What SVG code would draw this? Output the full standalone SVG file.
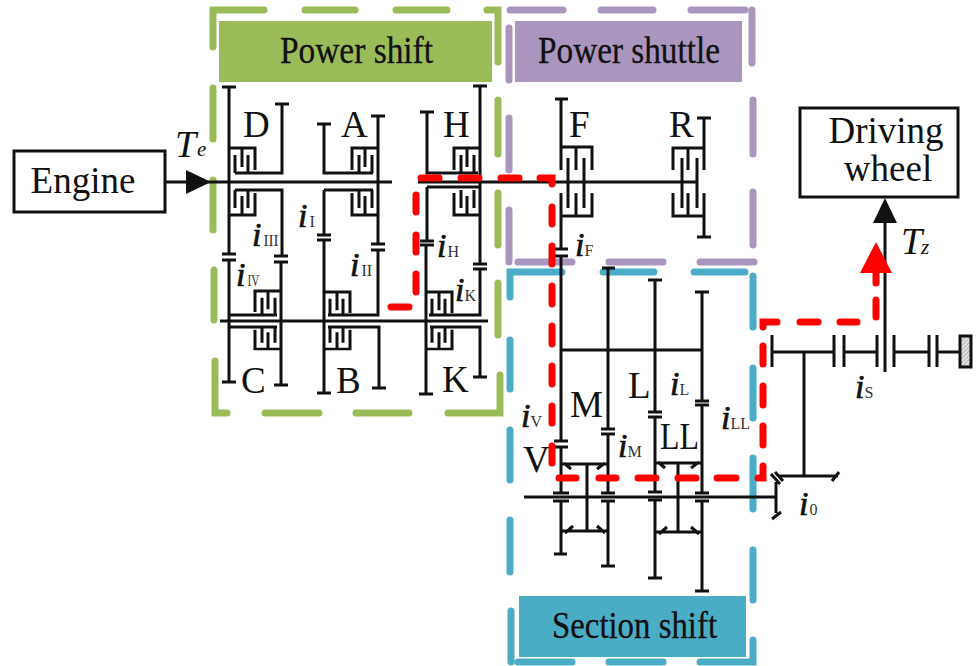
<svg xmlns="http://www.w3.org/2000/svg" xmlns:xlink="http://www.w3.org/1999/xlink" width="977" height="666" viewBox="0 0 977 666">
<style>
text{font-family:"Liberation Serif","Times New Roman",serif;fill:#111}
.lab{font-size:37px}
.band{font-size:38px;text-anchor:middle;stroke:#111;stroke-width:.3}
.big{font-size:37px;text-anchor:middle}
.T{font-size:38px;font-style:italic}
.t{font-size:21px;font-style:italic}
.i{font-size:34px;font-style:italic;stroke:#111;stroke-width:.7}
.s{font-size:16px;font-style:normal;font-weight:normal;fill:#333;stroke:none}
.m{fill:none;stroke:#111;stroke-width:3}
.d{fill:none;stroke-width:7;stroke-linecap:round;stroke-linejoin:miter}
.g{stroke:#9bbb59}.p{stroke:#a995be}.c{stroke:#4bacc6}
.r{fill:none;stroke:#f00;stroke-width:7;stroke-linecap:round;stroke-linejoin:miter}
.box{fill:#fff;stroke:#111;stroke-width:3}
</style>
<defs>
<path id="cl" class="m" d="M0 0H26V22M13 0V19M6 25V7M19 25V7"/>
<pattern id="hatch" width="3" height="3" patternUnits="userSpaceOnUse" patternTransform="rotate(45)"><rect width="3" height="3" fill="#e4e4e4"/><path d="M0 0V3" stroke="#888" stroke-width="1.1"/></pattern>
</defs>

<g id="power-shift">
<path class="d g" d="M213 47V10H264M305 10H355M396 10H447M487 10H498V62M498 100V154M498 193V245M498 283V335M500 375V413H448M409 413H356M319 413H265M227 413H215V361M214 320V270M213 230V180M213 139V88"/>
<rect x="219" y="21" width="273" height="61" fill="#9bbb59"/>
<text class="band" x="356.500" y="63" textLength="153" lengthAdjust="spacingAndGlyphs">Power shift</text>
</g>

<g id="power-shuttle">
<path class="d p" d="M510 10H563M601 10H653M691 10H745M752 10V63M509 28V80M509 118V170M509 210V262M518 262H572M609 262H663M700 262H754M753 100V154M753 192V245"/>
<rect x="515" y="21" width="227" height="61" fill="#a995be"/>
<text class="band" x="629" y="63" textLength="182" lengthAdjust="spacingAndGlyphs">Power shuttle</text>
</g>

<g id="section-shift">
<path class="d c" d="M510 297V272H562M603 272H654M694 272H745M753 276V327M753 368V418M753 458V509M753 550V600M753 640V662H700M663 662H609M572 662H518M511 662V611M510 572V520M510 480V430M510 389V340"/>
<rect x="519" y="596" width="227" height="61" fill="#4bacc6"/>
<text class="band" x="634.500" y="638" textLength="165" lengthAdjust="spacingAndGlyphs">Section shift</text>
</g>

<g id="engine">
<rect class="box" x="14" y="151" width="151" height="61"/>
<text class="big" x="83" y="193">Engine</text>
</g>

<g id="driving-wheel">
<rect class="box" x="800" y="108" width="158" height="89"/>
<text class="big" x="886" y="143">Driving</text>
<text class="big" x="888" y="181">wheel</text>
</g>

<g id="shafts">
<path class="m" d="M165 182H392M418 182H697M220 321H488M524 497H776M561 350H702"/>
</g>

<g id="gear-D-C">
<path class="m" d="M222 87H236M229 87V253M222 254H236M222 260H236M229 260V382M222 382H236M229 315H277"/>
<path class="m" d="M275 104H289M282 104V173H235M235 190H282V256M274 256H288M274 262H288M281 262V385M274 385H288M229 327H277"/>
<use xlink:href="#cl" href="#cl" transform="translate(229 148)"/>
<use xlink:href="#cl" href="#cl" transform="translate(229 215) scale(1 -1)"/>
<use xlink:href="#cl" href="#cl" transform="translate(281 291) scale(-1 .96)"/>
<use xlink:href="#cl" href="#cl" transform="translate(281 349) scale(-1 -.88)"/>
<text class="lab" x="243" y="137">D</text>
<text class="lab" x="241" y="393">C</text>
</g>

<g id="gear-A-B">
<path class="m" d="M317 124H331M324 124V173H373M324 190H373M324 190V235M317 235H331M317 240H331M324 240V393M317 393H331"/>
<path class="m" d="M371 116H385M378 116V244M371 244H385M371 250H385M378 250V315H328M328 327H379V388M372 388H386"/>
<use xlink:href="#cl" href="#cl" transform="translate(378 148) scale(-1 1)"/>
<use xlink:href="#cl" href="#cl" transform="translate(378 215) scale(-1 -1)"/>
<use xlink:href="#cl" href="#cl" transform="translate(324 292) scale(1 .96)"/>
<use xlink:href="#cl" href="#cl" transform="translate(324 349) scale(1 -.88)"/>
<text class="lab" x="341" y="137">A</text>
<text class="lab" x="336" y="393">B</text>
</g>

<g id="gear-H-K">
<path class="m" d="M420 112H434M427 112V173H478M427 187H480M427 187V241M420 241H434M420 245H434M426 245V394M419 394H433"/>
<path class="m" d="M473 86H487M480 86V264M473 264H487M473 269H487M480 269V315H429M430 327H480V377M473 377H487"/>
<use xlink:href="#cl" href="#cl" transform="translate(480 148) scale(-1 1)"/>
<use xlink:href="#cl" href="#cl" transform="translate(480 215) scale(-1 -1)"/>
<use xlink:href="#cl" href="#cl" transform="translate(426 292) scale(1 .96)"/>
<use xlink:href="#cl" href="#cl" transform="translate(426 349) scale(1 -.88)"/>
<text class="lab" x="443" y="137">H</text>
<text class="lab" x="442" y="392">K</text>
</g>

<g id="gear-F">
<path class="m" d="M555 99H568M561 99V170M561 147H592V170M576 147V170M568 158V208M584 158V208M561 193V249M561 216H592V193M576 216V193M554 249H568M554 256H568M561 256V441"/>
<text class="lab" x="569" y="137">F</text>
</g>

<g id="gear-R">
<path class="m" d="M697 118H711M704 118V170M673 170V148H704M688 148V170M682 158V208M697 158V208M673 193V216H704M688 216V193M704 193V237M697 237H711"/>
<text class="lab" x="669" y="137">R</text>
</g>

<g id="gear-V-M">
<path class="m" d="M554 441H568M554 447H568M561 447V493M553 493H569M553 501H569M561 501V554M554 554H567"/>
<path class="m" d="M602 268H615M608 268V429M601 429H615M601 434H615M608 434V493M601 493H615M601 501H615M608 501V566M601 566H615"/>
<path class="m" d="M561 464H608M587 464V531M561 531H608M564 463L571 469M605 463L597 469M565 533L573 526M605 533L597 526"/>
<text class="lab" x="570" y="417">M</text>
<text class="lab" x="523" y="472">V</text>
</g>

<g id="gear-L-LL">
<path class="m" d="M648 280H662M655 280V412M648 412H662M648 417H662M655 417V492M648 492H662M648 500H662M655 500V578M648 578H662"/>
<path class="m" d="M695 292H709M702 292V401M695 401H709M695 405H709M702 405V493M695 493H709M695 501H709M702 501V591M695 591H709"/>
<path class="m" d="M655 463H702M678 463V532M655 532H702M658 462L665 468M699 462L691 468M659 534L667 527M699 534L691 527"/>
<text class="lab" x="628" y="398">L</text>
<text class="lab" x="660" y="449" textLength="39" lengthAdjust="spacingAndGlyphs">LL</text>
</g>

<g id="final-drive">
<path class="m" d="M772 335V367M834 335V367M844 335V367M877 335V367M885 372V212M894 335V367M929 335V367M937 335V367M772 352H834M844 352H877M894 352H929M937 352H959M804 352V476M778 476H838M832 481L839 472M771 474L780 484M775 472L783 481M776 482V513M772 519L781 512"/>
<rect x="960" y="336" width="11" height="31" fill="url(#hatch)" stroke="#111" stroke-width="3"/>
</g>

<g id="connectors">
<path d="M186 170L211 182L186 194Z" fill="#111"/>
<path d="M885 198L897 223H873Z" fill="#111"/>
<path class="r" d="M391 307H409M416 292V274M416 252V235M416 212V195M421 178H439M461 178H479M501 178H519M540 178H552V184M552 207V224M552 246V264M552 286V304M552 326V344M552 366V384M552 406V423M552 446V463M559 478H576M599 478H616M638 478H656M678 478H696M717 478H736M758 478H763V466M763 445V426M763 405V386M763 364V346M763 327V322H777M800 322H818M840 322H857M876 317V300M876 283V272"/>
<path d="M876 242L892 273H860Z" fill="#f00"/>
</g>

<g id="labels">
<text class="T" x="175" y="157">T</text><text class="t" x="197" y="156">e</text>
<text class="T" x="901" y="254">T</text><text class="t" x="921" y="254">z</text>
<text class="i" x="298" y="227">i<tspan class="s" dx="2">I</tspan></text>
<text class="i" x="252" y="246">i<tspan class="s" dx="2" textLength="15" lengthAdjust="spacingAndGlyphs">III</tspan></text>
<text class="i" x="236" y="286">i<tspan class="s" dx="2" textLength="12" lengthAdjust="spacingAndGlyphs">IV</tspan></text>
<text class="i" x="350" y="276">i<tspan class="s" dx="2">II</tspan></text>
<text class="i" x="437" y="257">i<tspan class="s" dx="1">H</tspan></text>
<text class="i" x="455" y="301">i<tspan class="s">K</tspan></text>
<text class="i" x="575" y="256">i<tspan class="s">F</tspan></text>
<text class="i" x="521" y="427">i<tspan class="s">V</tspan></text>
<text class="i" x="618" y="457">i<tspan class="s">M</tspan></text>
<text class="i" x="670" y="395">i<tspan class="s">L</tspan></text>
<text class="i" x="721" y="429">i<tspan class="s">LL</tspan></text>
<text class="i" x="855" y="398">i<tspan class="s">S</tspan></text>
<text class="i" x="799" y="515">i<tspan class="s" dx="1">0</tspan></text>
</g>
</svg>
